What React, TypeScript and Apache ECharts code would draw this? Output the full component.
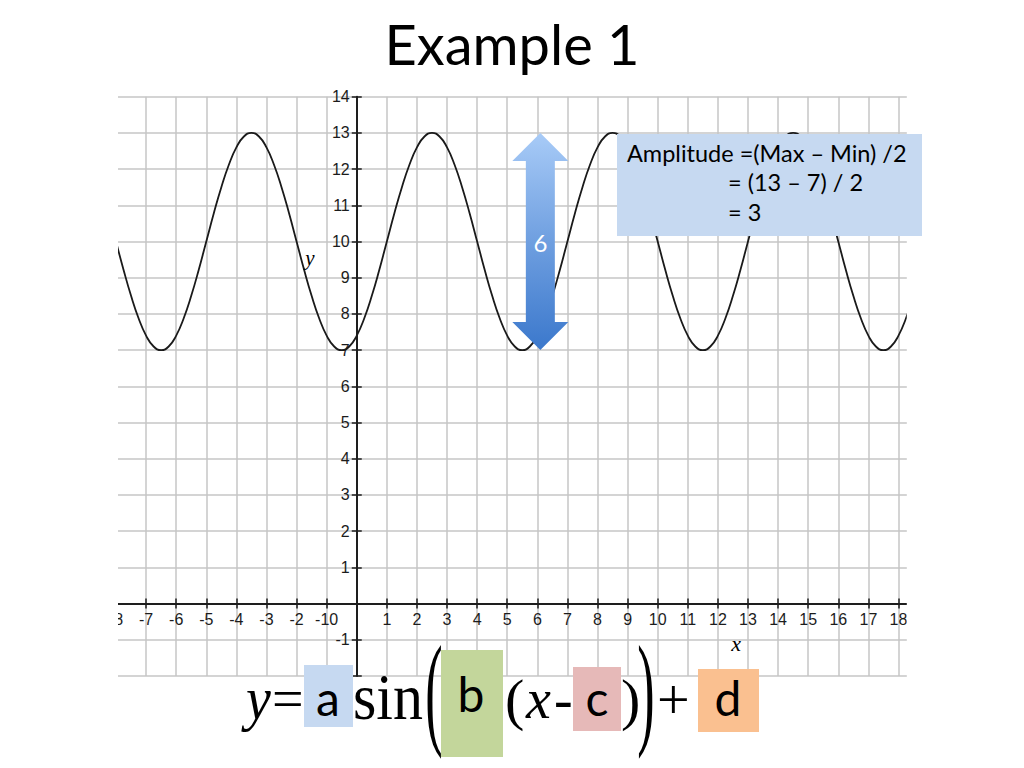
import React, { useEffect, useRef } from "react";
import * as echarts from "echarts";

// Curve samples (x, y), every quarter unit
const xValues = [
  -8, -7.75, -7.5, -7.25, -7, -6.75, -6.5, -6.25, -6, -5.75, -5.5, -5.25,
  -5, -4.75, -4.5, -4.25, -4, -3.75, -3.5, -3.25, -3, -2.75, -2.5, -2.25,
  -2, -1.75, -1.5, -1.25, -1, -0.75, -0.5, -0.25, 0, 0.25, 0.5, 0.75,
  1, 1.25, 1.5, 1.75, 2, 2.25, 2.5, 2.75, 3, 3.25, 3.5, 3.75,
  4, 4.25, 4.5, 4.75, 5, 5.25, 5.5, 5.75, 6, 6.25, 6.5, 6.75,
  7, 7.25, 7.5, 7.75, 8, 8.25, 8.5, 8.75, 9, 9.25, 9.5, 9.75,
  10, 10.25, 10.5, 10.75, 11, 11.25, 11.5, 11.75, 12, 12.25, 12.5, 12.75,
  13, 13.25, 13.5, 13.75, 14, 14.25, 14.5, 14.75, 15, 15.25, 15.5, 15.75,
  16, 16.25, 16.5, 16.75, 17, 17.25, 17.5, 17.75, 18, 18.25, 18.5,
];
const yValues = [
  10, 9.22, 8.5, 7.88, 7.4, 7.1, 7, 7.1, 7.4, 7.88, 8.5, 9.22,
  10, 10.78, 11.5, 12.12, 12.6, 12.9, 13, 12.9, 12.6, 12.12, 11.5, 10.78,
  10, 9.22, 8.5, 7.88, 7.4, 7.1, 7, 7.1, 7.4, 7.88, 8.5, 9.22,
  10, 10.78, 11.5, 12.12, 12.6, 12.9, 13, 12.9, 12.6, 12.12, 11.5, 10.78,
  10, 9.22, 8.5, 7.88, 7.4, 7.1, 7, 7.1, 7.4, 7.88, 8.5, 9.22,
  10, 10.78, 11.5, 12.12, 12.6, 12.9, 13, 12.9, 12.6, 12.12, 11.5, 10.78,
  10, 9.22, 8.5, 7.88, 7.4, 7.1, 7, 7.1, 7.4, 7.88, 8.5, 9.22,
  10, 10.78, 11.5, 12.12, 12.6, 12.9, 13, 12.9, 12.6, 12.12, 11.5, 10.78,
  10, 9.22, 8.5, 7.88, 7.4, 7.1, 7, 7.1, 7.4, 7.88, 8.5,
];

// Axis ranges and tick labels
const xRange = [-8, 18.3];
const yRange = [-2, 14];
const xHiddenLabels = [0];
const yHiddenLabels = [0, -2];
const xMergedLabel = { value: -1, text: "-10" };

// Double arrow spanning the min to the max
const arrowX = 6.1;
const arrowSpan = [7, 13];
const arrowLabel = "6";

const title = "Example 1";
const boxLines = ["Amplitude =(Max \u2013 Min) /2", "= (13 \u2013 7) / 2", "= 3"];

const SANS = '"Liberation Sans", Arial, sans-serif';
const LATO = 'Lato, "Open Sans", sans-serif';
const SERIF = '"Liberation Serif", "DejaVu Serif", serif';

function txt(text: string, x: number, y: number, font: string, extra: any = {}) {
  const { align = "left", fill = "#000", scaleX = 1, scaleY = 1, z = 50 } = extra;
  return {
    type: "text",
    x,
    y,
    scaleX,
    scaleY,
    z,
    style: {
      text,
      x: 0,
      y: 0,
      font,
      fill,
      align,
      textAlign: align,
      verticalAlign: "middle",
      textVerticalAlign: "middle",
    },
  };
}

function rect(x: number, y: number, w: number, h: number, fill: string, z = 40) {
  return { type: "rect", z, shape: { x, y, width: w, height: h }, style: { fill } };
}

export default function App() {
  const ref = useRef<HTMLDivElement>(null);

  useEffect(() => {
    if (!ref.current) return;
    const chart = echarts.init(ref.current, null, { renderer: "svg" });

    const axisColor = "#1e1e1e";
    const gridColor = "#c6c6c6";
    const labelStyle = { fontFamily: SANS, fontSize: 16, color: "#1c1c1c" };

    const makeOption = (xOffset: number, yOffset: number) => ({
      animation: false,
      backgroundColor: "#ffffff",
      grid: {
        left: 116,
        right: 116.5,
        top: 96.7,
        bottom: 92.1,
        containLabel: false,
        outerBoundsMode: "none",
      },
      xAxis: [
        {
          type: "value",
          min: xRange[0],
          max: xRange[1],
          interval: 1,
          position: "bottom",
          offset: xOffset,
          axisLine: { show: true, onZero: false, lineStyle: { color: axisColor, width: 2 } },
          axisTick: { show: true, length: 5, lineStyle: { color: axisColor, width: 1.5 } },
          axisLabel: {
            ...labelStyle,
            margin: 8,
            showMaxLabel: false,
            formatter: (v: number) => {
              if (!Number.isInteger(v)) return "";
              if (xHiddenLabels.includes(v)) return "";
              if (v === xMergedLabel.value) return xMergedLabel.text;
              return String(v);
            },
          },
          splitLine: { show: true, lineStyle: { color: gridColor, width: 1.5 } },
        },
        {
          type: "value",
          min: xRange[0],
          max: xRange[1],
          interval: 1,
          position: "bottom",
          offset: xOffset,
          axisLine: { show: false, onZero: false },
          axisTick: { show: true, inside: true, length: 5, lineStyle: { color: axisColor, width: 1.5 } },
          axisLabel: { show: false },
          splitLine: { show: false },
        },
      ],
      yAxis: [
        {
          type: "value",
          min: yRange[0],
          max: yRange[1],
          interval: 1,
          position: "left",
          offset: yOffset,
          axisLine: { show: true, onZero: false, lineStyle: { color: axisColor, width: 2 } },
          axisTick: { show: true, length: 5, lineStyle: { color: axisColor, width: 1.5 } },
          axisLabel: {
            ...labelStyle,
            margin: 7,
            formatter: (v: number) => (yHiddenLabels.includes(v) ? "" : String(v)),
          },
          splitLine: { show: true, lineStyle: { color: gridColor, width: 1.5 } },
        },
        {
          type: "value",
          min: yRange[0],
          max: yRange[1],
          interval: 1,
          position: "left",
          offset: yOffset,
          axisLine: { show: false, onZero: false },
          axisTick: { show: true, inside: true, length: 5, lineStyle: { color: axisColor, width: 1.5 } },
          axisLabel: { show: false },
          splitLine: { show: false },
        },
      ],
      series: [
        {
          type: "line",
          xAxisIndex: 0,
          yAxisIndex: 0,
          data: xValues.map((x, i) => [x, yValues[i]]),
          smooth: true,
          symbol: "none",
          lineStyle: { color: "#1a1a1a", width: 1.8 },
          z: 5,
        },
      ],
    });

    chart.setOption(makeOption(0, 0));

    const toPx = (p: number[]) => chart.convertToPixel({ xAxisIndex: 0, yAxisIndex: 0 }, p) as number[];
    // move the axes so they cross at the origin
    const origin = toPx([0, 0]);
    const corner = toPx([xRange[0], yRange[0]]);
    const xOffset = -(corner[1] - origin[1]);
    const yOffset = -(origin[0] - corner[0]);
    chart.setOption(makeOption(xOffset, yOffset));

    const top = toPx([arrowX, arrowSpan[1]]);
    const bot = toPx([arrowX, arrowSpan[0]]);
    const cx = top[0];
    const hw = 28;
    const sw = 14.5;
    const hl = 28;
    const ty = top[1];
    const by = bot[1];
    const arrowPoints = [
      [cx, ty],
      [cx + hw, ty + hl],
      [cx + sw, ty + hl],
      [cx + sw, by - hl],
      [cx + hw, by - hl],
      [cx, by],
      [cx - hw, by - hl],
      [cx - sw, by - hl],
      [cx - sw, ty + hl],
      [cx - hw, ty + hl],
    ];

    const elements: any[] = [
      // crop of the left and right edges of the picture
      rect(0, 85, 118, 600, "#ffffff", 30),
      rect(906.8, 85, 118, 600, "#ffffff", 30),
      // title
      txt(title, 512, 43, `56px ${LATO}`, { align: "center" }),
      // axis names
      txt("y", 310, 258, `italic 21px ${SERIF}`, { align: "center" }),
      txt("x", 736, 643, `italic 22px ${SERIF}`, { align: "center" }),
      // arrow
      {
        type: "polygon",
        z: 45,
        shape: { points: arrowPoints },
        style: {
          fill: {
            type: "linear",
            x: 0,
            y: 0,
            x2: 0,
            y2: 1,
            colorStops: [
              { offset: 0, color: "#a8cbf7" },
              { offset: 0.5, color: "#6f9fe0" },
              { offset: 1, color: "#3b78cc" },
            ],
          },
        },
      },
      txt(arrowLabel, cx, (ty + by) / 2 + 1, `24px ${LATO}`, { align: "center", fill: "#ffffff", z: 46 }),
      // amplitude box
      rect(617, 134, 305, 102, "#c6d9f1", 45),
      txt(boxLines[0], 627, 153, `23.5px ${LATO}`, { z: 46 }),
      txt(boxLines[1], 728, 182, `23.5px ${LATO}`, { z: 46 }),
      txt(boxLines[2], 728, 212, `23.5px ${LATO}`, { z: 46 }),
      // formula
      rect(304, 665, 49, 62, "#c6d9f1"),
      rect(441, 650, 62, 107, "#c3d69b"),
      rect(573, 667, 48, 64, "#e6b9b8"),
      rect(698, 669, 61, 63, "#fac090"),
      txt("y", 246, 699, `italic 56px ${SERIF}`, { scaleY: 1.1 }),
      txt("=", 272, 699, `56px ${SERIF}`),
      txt("a", 328, 697, `48px ${LATO}`, { align: "center" }),
      txt("sin", 353, 697, `60px ${SERIF}`, { scaleY: 1.1 }),
      txt("(", 434, 690, `124px ${SERIF}`, { align: "center", scaleX: 0.42 }),
      txt("b", 471, 693, `48px ${LATO}`, { align: "center" }),
      txt("(", 505, 699, `58px ${SERIF}`),
      txt("x", 526, 699, `italic 56px ${SERIF}`),
      txt("-", 554, 699, `56px ${SERIF}`),
      txt("c", 597, 697, `48px ${LATO}`, { align: "center" }),
      txt(")", 621, 699, `58px ${SERIF}`),
      txt(")", 646, 690, `124px ${SERIF}`, { align: "center", scaleX: 0.42 }),
      txt("+", 657, 699, `58px ${SERIF}`),
      txt("d", 728, 697, `48px ${LATO}`, { align: "center" }),
    ];

    chart.setOption({ graphic: { elements } });

    return () => chart.dispose();
  }, []);

  return (
    <div
      ref={ref}
      style={{ position: "fixed", left: 0, top: 0, width: 1024, height: 768, background: "#fff" }}
    />
  );
}
